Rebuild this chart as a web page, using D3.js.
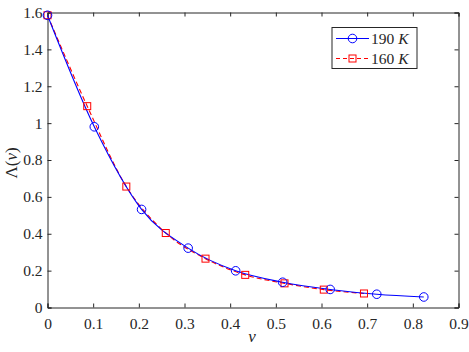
<!DOCTYPE html>
<html>
<head>
<meta charset="utf-8">
<script src="https://cdn.jsdelivr.net/npm/d3@7"></script>
<style>
  body { margin: 0; background: #fff; }
</style>
</head>
<body>
<svg id="chart" width="469" height="352"></svg>
<script>
// 190 K の系列
var nu190 = [0, 0.1025, 0.206, 0.308, 0.412, 0.515, 0.619, 0.721, 0.824];
var lam190 = [1.585, 0.98, 0.532, 0.322, 0.199, 0.137, 0.098, 0.072, 0.057];
// 160 K の系列
var nu160 = [0, 0.087, 0.1726, 0.259, 0.346, 0.433, 0.519, 0.605, 0.693];
var lam160 = [1.585, 1.092, 0.656, 0.404, 0.265, 0.177, 0.131, 0.097, 0.076];

var xTicks = [0, 0.1, 0.2, 0.3, 0.4, 0.5, 0.6, 0.7, 0.8, 0.9];
var yTicks = [0, 0.2, 0.4, 0.6, 0.8, 1, 1.2, 1.4, 1.6];
var seriesNames = ["190", "160"];

var svg = d3.select("#chart");
var plotLeft = 47.5, plotRight = 458.5, plotTop = 12.5, plotBottom = 307.5;
var axisColor = "#262626";
var serif = "'Liberation Serif'";

var xScale = d3.scaleLinear().domain([0, 0.9]).range([plotLeft, plotRight]);
var yScale = d3.scaleLinear().domain([0, 1.6]).range([plotBottom, plotTop]);

// 軸(MATLAB風の枠と内向きの目盛り)
var fmt = (d) => (d == 0 ? "0" : d3.format("")(d));
var xAxis = d3.axisBottom(xScale).tickValues(xTicks).tickSize(-4).tickPadding(10).tickFormat(fmt);
var yAxis = d3.axisLeft(yScale).tickValues(yTicks).tickSize(-4).tickPadding(5).tickFormat(fmt);
var xAxisTop = d3.axisTop(xScale).tickValues(xTicks).tickSize(-4).tickFormat("");
var yAxisRight = d3.axisRight(yScale).tickValues(yTicks).tickSize(-4).tickFormat("");

function styleAxis(g) {
  g.attr("font-family", null);
  g.selectAll("path").attr("stroke", axisColor).attr("stroke-width", 1);
  g.selectAll("line").attr("stroke", axisColor).attr("stroke-width", 1);
  g.selectAll("text").attr("fill", axisColor)
    .attr("font-family", serif).attr("font-size", 15.5);
}

svg.append("g").attr("transform", `translate(0,${plotBottom})`).call(xAxis).call(styleAxis);
svg.append("g").attr("transform", `translate(${plotLeft},0)`).call(yAxis).call(styleAxis);
svg.append("g").attr("transform", `translate(0,${plotTop})`).call(xAxisTop).call(styleAxis);
svg.append("g").attr("transform", `translate(${plotRight},0)`).call(yAxisRight).call(styleAxis);

// 系列の線
var line = d3.line()
  .x((d) => xScale(d[0]))
  .y((d) => yScale(d[1]))
  .curve(d3.curveMonotoneX);

var data190 = nu190.map((v, i) => [v, lam190[i]]);
var data160 = nu160.map((v, i) => [v, lam160[i]]);

svg.append("path").datum(data160)
  .attr("d", line).attr("fill", "none")
  .attr("stroke", "#ff0000").attr("stroke-width", 1.1)
  .attr("stroke-dasharray", "5,3");
svg.append("path").datum(data190)
  .attr("d", line).attr("fill", "none")
  .attr("stroke", "#0000ff").attr("stroke-width", 1.1);

// マーカー
svg.append("g").selectAll("rect").data(data160).enter().append("rect")
  .attr("x", (d) => xScale(d[0]) - 3.5)
  .attr("y", (d) => yScale(d[1]) - 3.5)
  .attr("width", 7).attr("height", 7)
  .attr("fill", "none").attr("stroke", "#ff0000").attr("stroke-width", 1);
svg.append("g").selectAll("circle").data(data190).enter().append("circle")
  .attr("cx", (d) => xScale(d[0]))
  .attr("cy", (d) => yScale(d[1]))
  .attr("r", 4.3)
  .attr("fill", "none").attr("stroke", "#0000ff").attr("stroke-width", 1);

// 軸ラベル
svg.append("text").attr("x", (plotLeft + plotRight) / 2 - 1).attr("y", 342)
  .attr("text-anchor", "middle").attr("fill", axisColor)
  .attr("font-family", serif).attr("font-size", 17).attr("font-style", "italic").text("ν");
svg.append("text")
  .attr("transform", `translate(17,163) rotate(-90)`)
  .attr("text-anchor", "middle").attr("fill", axisColor)
  .attr("font-family", serif).attr("font-size", 17)
  .html('Λ(<tspan font-style="italic">ν</tspan>)');

// 凡例
var legend = svg.append("g");
legend.append("rect").attr("x", 332).attr("y", 27.5).attr("width", 85).attr("height", 41)
  .attr("fill", "#fff").attr("stroke", axisColor).attr("stroke-width", 1);
var legendItems = [
  { name: seriesNames[0], color: "#0000ff", dash: null, marker: "circle" },
  { name: seriesNames[1], color: "#ff0000", dash: "4,3", marker: "rect" },
];
legendItems.forEach((d, i) => {
  var y = 38.5 + i * 20;
  legend.append("line").attr("x1", 336).attr("x2", 369).attr("y1", y).attr("y2", y)
    .attr("stroke", d.color).attr("stroke-width", 1.1).attr("stroke-dasharray", d.dash);
  if (d.marker == "circle") {
    legend.append("circle").attr("cx", 352.5).attr("cy", y).attr("r", 4.3)
      .attr("fill", "none").attr("stroke", d.color);
  } else {
    legend.append("rect").attr("x", 349).attr("y", y - 3.5).attr("width", 7).attr("height", 7)
      .attr("fill", "none").attr("stroke", d.color);
  }
  legend.append("text").attr("x", 371).attr("y", y + 5).attr("fill", axisColor)
    .attr("font-family", serif).attr("font-size", 15.5)
    .html(`${d.name} <tspan font-style="italic">K</tspan>`);
});
</script>
</body>
</html>
